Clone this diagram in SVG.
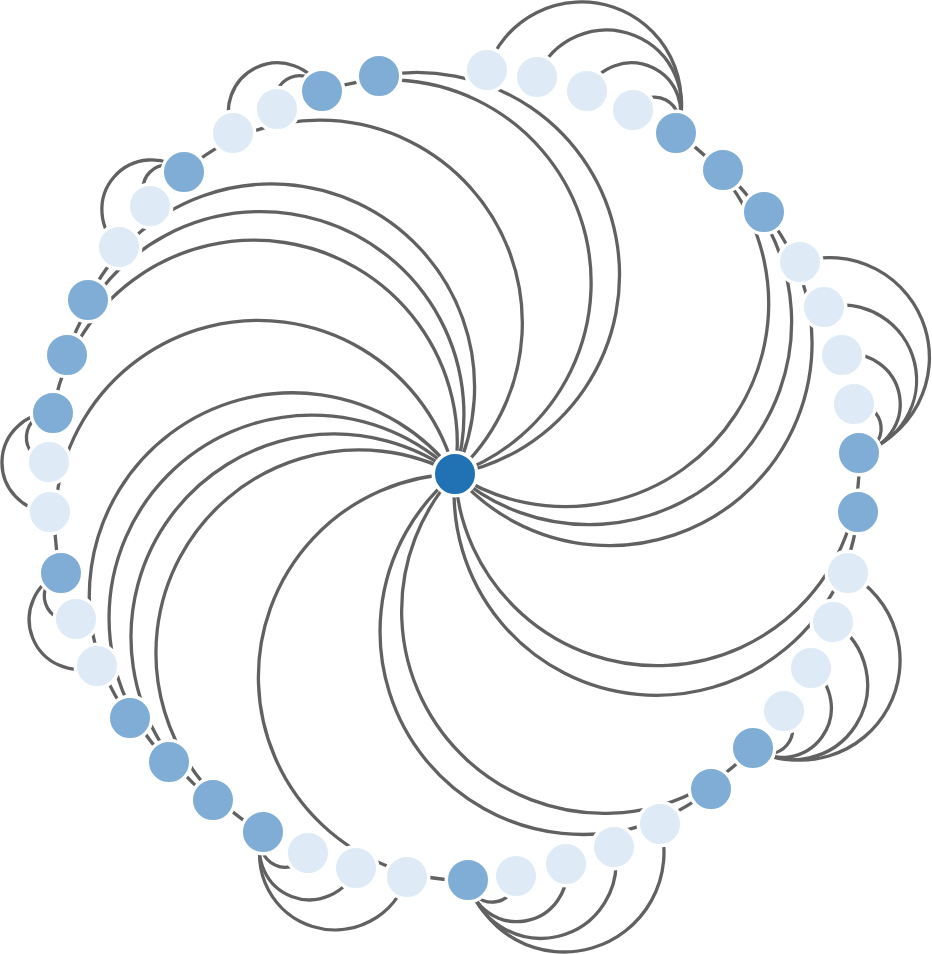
<svg xmlns="http://www.w3.org/2000/svg" width="932" height="954" viewBox="0 0 932 954">
<style>
.link{fill:none;stroke:#616161;stroke-width:3.3}
.node circle{stroke:#fff;stroke-width:3.5}
.root{fill:#2171b5}
.inner{fill:#7fadd6}
.leaf{fill:#deebf7}
</style>
<rect width="932" height="954" fill="#fff"/>
<g id="links">
<path class="link" d="M455 474A1 1 0 0 0 379 76"/>
<path class="link" d="M455 474A1 1 0 0 0 676 133"/>
<path class="link" d="M455 474A1 1 0 0 0 723 170"/>
<path class="link" d="M455 474A1 1 0 0 0 764 212"/>
<path class="link" d="M455 474A1 1 0 0 0 859 453"/>
<path class="link" d="M455 474A1 1 0 0 0 858 512"/>
<path class="link" d="M455 474A1 1 0 0 0 753 748"/>
<path class="link" d="M455 474A1 1 0 0 0 711 789"/>
<path class="link" d="M455 474A1 1 0 0 0 468 880"/>
<path class="link" d="M455 474A1 1 0 0 0 263 832"/>
<path class="link" d="M455 474A1 1 0 0 0 213 800"/>
<path class="link" d="M455 474A1 1 0 0 0 169 762"/>
<path class="link" d="M455 474A1 1 0 0 0 130 718"/>
<path class="link" d="M455 474A1 1 0 0 0 61 573"/>
<path class="link" d="M455 474A1 1 0 0 0 53 413"/>
<path class="link" d="M455 474A1 1 0 0 0 67 355"/>
<path class="link" d="M455 474A1 1 0 0 0 88 300"/>
<path class="link" d="M455 474A1 1 0 0 0 184 172"/>
<path class="link" d="M455 474A1 1 0 0 0 322 91"/>
<path class="link" d="M487 70A1 1 0 0 1 676 133"/>
<path class="link" d="M537 77A1 1 0 0 1 676 133"/>
<path class="link" d="M587 91A1 1 0 0 1 676 133"/>
<path class="link" d="M633 110A1 1 0 0 1 676 133"/>
<path class="link" d="M800 262A1 1 0 0 1 859 453"/>
<path class="link" d="M824 307A1 1 0 0 1 859 453"/>
<path class="link" d="M842 355A1 1 0 0 1 859 453"/>
<path class="link" d="M854 404A1 1 0 0 1 859 453"/>
<path class="link" d="M848 573A1 1 0 0 1 753 748"/>
<path class="link" d="M833 622A1 1 0 0 1 753 748"/>
<path class="link" d="M811 668A1 1 0 0 1 753 748"/>
<path class="link" d="M784 711A1 1 0 0 1 753 748"/>
<path class="link" d="M660 824A1 1 0 0 1 468 880"/>
<path class="link" d="M614 847A1 1 0 0 1 468 880"/>
<path class="link" d="M566 864A1 1 0 0 1 468 880"/>
<path class="link" d="M516 876A1 1 0 0 1 468 880"/>
<path class="link" d="M407 877A1 1 0 0 1 263 832"/>
<path class="link" d="M356 868A1 1 0 0 1 263 832"/>
<path class="link" d="M308 853A1 1 0 0 1 263 832"/>
<path class="link" d="M97 666A1 1 0 0 1 61 573"/>
<path class="link" d="M76 619A1 1 0 0 1 61 573"/>
<path class="link" d="M50 512A1 1 0 0 1 53 413"/>
<path class="link" d="M49 462A1 1 0 0 1 53 413"/>
<path class="link" d="M119 247A1 1 0 0 1 184 172"/>
<path class="link" d="M150 206A1 1 0 0 1 184 172"/>
<path class="link" d="M233 133A1 1 0 0 1 322 91"/>
<path class="link" d="M277 109A1 1 0 0 1 322 91"/>
</g>
<g class="node" id="n0"><circle class="root" cx="455" cy="474" r="21.75"/></g>
<g class="node" id="n1"><circle class="inner" cx="379" cy="76" r="21.75"/></g>
<g class="node" id="n2"><circle class="leaf" cx="487" cy="70" r="21.75"/></g>
<g class="node" id="n3"><circle class="leaf" cx="537" cy="77" r="21.75"/></g>
<g class="node" id="n4"><circle class="leaf" cx="587" cy="91" r="21.75"/></g>
<g class="node" id="n5"><circle class="leaf" cx="633" cy="110" r="21.75"/></g>
<g class="node" id="n6"><circle class="inner" cx="676" cy="133" r="21.75"/></g>
<g class="node" id="n7"><circle class="inner" cx="723" cy="170" r="21.75"/></g>
<g class="node" id="n8"><circle class="inner" cx="764" cy="212" r="21.75"/></g>
<g class="node" id="n9"><circle class="leaf" cx="800" cy="262" r="21.75"/></g>
<g class="node" id="n10"><circle class="leaf" cx="824" cy="307" r="21.75"/></g>
<g class="node" id="n11"><circle class="leaf" cx="842" cy="355" r="21.75"/></g>
<g class="node" id="n12"><circle class="leaf" cx="854" cy="404" r="21.75"/></g>
<g class="node" id="n13"><circle class="inner" cx="859" cy="453" r="21.75"/></g>
<g class="node" id="n14"><circle class="inner" cx="858" cy="512" r="21.75"/></g>
<g class="node" id="n15"><circle class="leaf" cx="848" cy="573" r="21.75"/></g>
<g class="node" id="n16"><circle class="leaf" cx="833" cy="622" r="21.75"/></g>
<g class="node" id="n17"><circle class="leaf" cx="811" cy="668" r="21.75"/></g>
<g class="node" id="n18"><circle class="leaf" cx="784" cy="711" r="21.75"/></g>
<g class="node" id="n19"><circle class="inner" cx="753" cy="748" r="21.75"/></g>
<g class="node" id="n20"><circle class="inner" cx="711" cy="789" r="21.75"/></g>
<g class="node" id="n21"><circle class="leaf" cx="660" cy="824" r="21.75"/></g>
<g class="node" id="n22"><circle class="leaf" cx="614" cy="847" r="21.75"/></g>
<g class="node" id="n23"><circle class="leaf" cx="566" cy="864" r="21.75"/></g>
<g class="node" id="n24"><circle class="leaf" cx="516" cy="876" r="21.75"/></g>
<g class="node" id="n25"><circle class="inner" cx="468" cy="880" r="21.75"/></g>
<g class="node" id="n26"><circle class="leaf" cx="407" cy="877" r="21.75"/></g>
<g class="node" id="n27"><circle class="leaf" cx="356" cy="868" r="21.75"/></g>
<g class="node" id="n28"><circle class="leaf" cx="308" cy="853" r="21.75"/></g>
<g class="node" id="n29"><circle class="inner" cx="263" cy="832" r="21.75"/></g>
<g class="node" id="n30"><circle class="inner" cx="213" cy="800" r="21.75"/></g>
<g class="node" id="n31"><circle class="inner" cx="169" cy="762" r="21.75"/></g>
<g class="node" id="n32"><circle class="inner" cx="130" cy="718" r="21.75"/></g>
<g class="node" id="n33"><circle class="leaf" cx="97" cy="666" r="21.75"/></g>
<g class="node" id="n34"><circle class="leaf" cx="76" cy="619" r="21.75"/></g>
<g class="node" id="n35"><circle class="inner" cx="61" cy="573" r="21.75"/></g>
<g class="node" id="n36"><circle class="leaf" cx="50" cy="512" r="21.75"/></g>
<g class="node" id="n37"><circle class="leaf" cx="49" cy="462" r="21.75"/></g>
<g class="node" id="n38"><circle class="inner" cx="53" cy="413" r="21.75"/></g>
<g class="node" id="n39"><circle class="inner" cx="67" cy="355" r="21.75"/></g>
<g class="node" id="n40"><circle class="inner" cx="88" cy="300" r="21.75"/></g>
<g class="node" id="n41"><circle class="leaf" cx="119" cy="247" r="21.75"/></g>
<g class="node" id="n42"><circle class="leaf" cx="150" cy="206" r="21.75"/></g>
<g class="node" id="n43"><circle class="inner" cx="184" cy="172" r="21.75"/></g>
<g class="node" id="n44"><circle class="leaf" cx="233" cy="133" r="21.75"/></g>
<g class="node" id="n45"><circle class="leaf" cx="277" cy="109" r="21.75"/></g>
<g class="node" id="n46"><circle class="inner" cx="322" cy="91" r="21.75"/></g>
</svg>
